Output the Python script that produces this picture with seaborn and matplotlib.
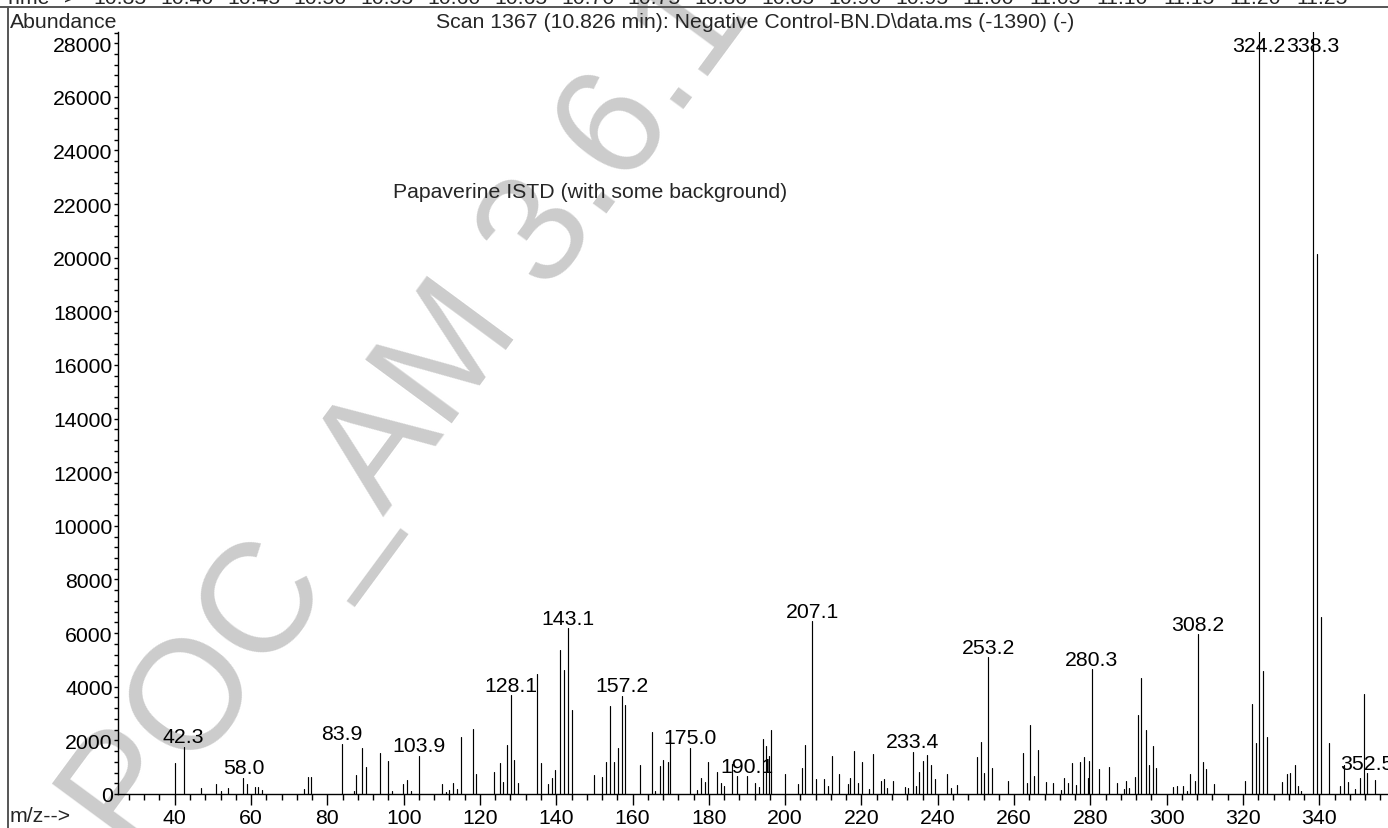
import numpy as np
import pandas as pd
import matplotlib
matplotlib.use("Agg")
import matplotlib.pyplot as plt
import seaborn as sns
from matplotlib.lines import Line2D
from matplotlib.ticker import MultipleLocator, FixedLocator, FuncFormatter

# ---------------- data ----------------
mz = [40.0, 42.3, 47.0, 50.9, 52.0, 54.0, 58.0, 58.9, 61.0, 61.7, 63.0,
      74.0, 75.0, 75.6, 83.9, 87.0, 87.6, 89.0, 90.1, 93.7, 95.8, 97.0,
      99.9, 101.0, 101.9, 103.9, 110.0, 111.0, 112.0, 113.0, 113.9, 115.1,
      118.1, 119.0, 123.7, 125.2, 126.1, 127.0, 128.1, 129.0, 130.0, 135.0,
      136.0, 137.9, 138.8, 139.8, 141.0, 141.9, 143.1, 144.1, 150.0, 152.0,
      153.1, 154.1, 155.1, 156.2, 157.2, 158.1, 162.0, 165.0, 166.0, 167.1,
      168.1, 169.2, 169.8, 175.0, 177.0, 178.0, 179.1, 179.8, 182.1, 183.1,
      184.0, 186.1, 187.5, 190.1, 192.2, 193.2, 194.1, 195.1, 195.8, 196.4,
      200.0, 203.3, 204.3, 205.1, 207.1, 208.2, 210.3, 211.3, 212.2, 214.1,
      216.4, 216.9, 218.0, 219.1, 220.2, 222.0, 223.1, 225.1, 226.0, 226.7,
      228.2, 231.3, 232.1, 233.4, 234.2, 235.0, 236.1, 237.1, 238.3, 239.2,
      242.5, 243.4, 245.0, 250.3, 251.2, 252.2, 253.2, 254.3, 258.5, 262.3,
      263.3, 264.1, 265.3, 266.3, 268.3, 270.3, 272.3, 273.2, 274.1, 275.3,
      276.3, 277.4, 278.2, 279.3, 279.6, 280.3, 282.2, 285.0, 287.1, 288.7,
      289.3, 290.0, 291.7, 292.5, 293.3, 294.6, 295.4, 296.3, 297.1, 301.7,
      302.6, 304.3, 305.2, 306.2, 307.5, 308.2, 309.4, 310.4, 312.4, 320.6,
      322.3, 323.4, 324.2, 325.3, 326.2, 330.3, 331.4, 332.4, 333.6, 334.4,
      335.3, 338.3, 339.4, 340.5, 342.5, 345.5, 346.5, 347.4, 349.3, 350.7,
      351.6, 352.5, 354.5]
abundance = [1160, 1770, 210, 360, 125, 210, 610, 360, 250, 250, 160,
             190, 650, 650, 1880, 110, 690, 1720, 1020, 1520, 1230, 110,
             360, 520, 110, 1420, 390, 60, 160, 410, 170, 2140,
             2430, 750, 820, 1160, 440, 1840, 3690, 1280, 400, 4480,
             1160, 370, 590, 880, 5380, 4610, 6190, 3140, 710, 640,
             1200, 3290, 1180, 1730, 3660, 3320, 1080, 2330, 125, 1050,
             1270, 1210, 2020, 1720, 150, 590, 460, 1200, 810, 400,
             290, 1130, 670, 670, 410, 250, 2050, 1800, 1430, 2400,
             760, 360, 970, 1840, 6450, 550, 550, 300, 1420, 750,
             360, 610, 1610, 420, 1200, 170, 1490, 500, 560, 220,
             500, 250, 220, 1570, 300, 820, 1220, 1440, 1100, 550,
             750, 220, 320, 1380, 1940, 800, 5110, 970, 470, 1530,
             420, 2580, 660, 1640, 460, 420, 150, 600, 420, 1160,
             350, 1200, 1390, 600, 1230, 4650, 930, 1010, 420, 170,
             490, 220, 640, 2930, 4320, 2380, 1100, 1780, 970, 250,
             310, 290, 110, 750, 500, 5960, 1180, 930, 370, 490,
             3340, 1900, 28500, 4590, 2130, 450, 750, 800, 1070, 310,
             125, 28500, 20130, 6600, 1900, 310, 1070, 460, 190, 590,
             3740, 770, 520]
labeled_mz = [42.3, 58.0, 83.9, 103.9, 128.1, 143.1, 157.2, 175.0, 190.1,
              207.1, 233.4, 253.2, 280.3, 308.2, 324.2, 338.3, 352.5]
x_ticks = [40, 60, 80, 100, 120, 140, 160, 180, 200, 220, 240, 260, 280,
           300, 320, 340]
y_ticks = [0, 2000, 4000, 6000, 8000, 10000, 12000, 14000, 16000, 18000,
           20000, 22000, 24000, 26000, 28000]
time_ticks = ["10.35", "10.40", "10.45", "10.50", "10.55", "10.60", "10.65",
              "10.70", "10.75", "10.80", "10.85", "10.90", "10.95", "11.00",
              "11.05", "11.10", "11.15", "11.20", "11.25"]
title = "Scan 1367 (10.826 min): Negative Control-BN.D\\data.ms (-1390) (-)"
note = "Papaverine ISTD (with some background)"
watermark = "POC_AM 3.6.1"

# ---------------- style ----------------
sns.set_theme(style="ticks")
plt.rcParams["font.family"] = ["Liberation Sans", "DejaVu Sans"]
FS = 15.3
W, H = 1388, 829
YTOP = 28430

fig = plt.figure(figsize=(W / 100, H / 100), dpi=100)
fig.patch.set_facecolor("white")
ax = fig.add_axes([117.5 / W, 34 / H, (W - 117.5) / W, (H - 34 - 32.7) / H])
ax.set_facecolor("none")

n = len(mz)
df = pd.DataFrame({
    "mz": np.repeat(mz, 2),
    "abundance": np.column_stack([np.zeros(n), abundance]).ravel(),
    "peak": np.repeat(np.arange(n), 2),
})
sns.lineplot(data=df, x="mz", y="abundance", units="peak", estimator=None,
             sort=False, color="black", linewidth=0.85, ax=ax, legend=False)

ax.set_xlim(25, 358)
ax.set_ylim(0, YTOP)
ax.set_xlabel("")
ax.set_ylabel("")
for s in ["top", "right"]:
    ax.spines[s].set_visible(False)
for s in ["left", "bottom"]:
    ax.spines[s].set_linewidth(1.0)
    ax.spines[s].set_color("black")

ax.xaxis.set_major_locator(FixedLocator(x_ticks))
ax.xaxis.set_minor_locator(MultipleLocator(4))
ax.yaxis.set_major_locator(FixedLocator(y_ticks))
ax.yaxis.set_minor_locator(MultipleLocator(400))
ax.yaxis.set_major_formatter(FuncFormatter(lambda v, p: f"{int(v)}"))
ax.tick_params(axis="x", which="major", length=7.9, width=1.0, pad=2.4,
               labelsize=FS, colors="black")
ax.tick_params(axis="x", which="minor", length=4.3, width=1.0, colors="black")
ax.tick_params(axis="y", which="both", length=2.6, width=1.0, pad=1.0,
               labelsize=FS, colors="black")

# peak labels
for m in labeled_mz:
    a = abundance[mz.index(m)]
    if a < YTOP:
        xy, off = (m, a), (0, 3.2)
    else:
        xy, off = (m, YTOP), (0, -13.9)
    ax.annotate(f"{m:.1f}", xy=xy, xytext=off, textcoords="offset points",
                ha="center", va="baseline", fontsize=FS, color="black",
                annotation_clip=False)

ax.text(148.8, 22260, note, ha="center", va="baseline", fontsize=FS)

# header / frame texts
fig.text(10 / W, 1 - 28 / H, "Abundance", ha="left", va="baseline", fontsize=FS)
fig.text(755 / W, 1 - 28 / H, title, ha="center", va="baseline", fontsize=FS)
fig.text(10 / W, 1 - 822 / H, "m/z-->", ha="left", va="baseline", fontsize=FS)

fig.text(4 / W, 1 - 4 / H, "Time-->", ha="left", va="baseline", fontsize=FS)
for i, t in enumerate(time_ticks):
    xc = 120 + (float(t) - float(time_ticks[0])) / 0.05 * 66.8
    fig.text(xc / W, 1 - 4 / H, t, ha="center", va="baseline", fontsize=FS)

fig.add_artist(Line2D([0, 1], [1 - 7.5 / H, 1 - 7.5 / H], transform=fig.transFigure,
                      color="#555555", lw=1.4))
fig.add_artist(Line2D([7.5 / W, 7.5 / W], [0, 1 - 7.5 / H], transform=fig.transFigure,
                      color="#555555", lw=1.4))

# watermark
fig.text(132 / W, -29 / H, watermark, rotation=53.6, rotation_mode="anchor",
         ha="left", va="baseline", fontsize=112, color="#cccccc", zorder=-5)

fig.savefig("out.png", dpi=100)
